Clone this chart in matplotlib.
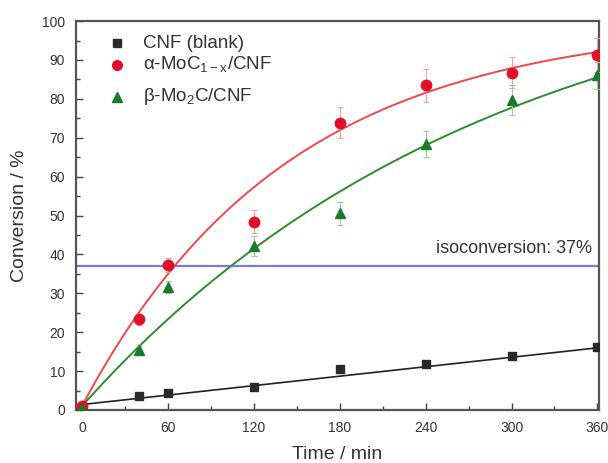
import numpy as np
import matplotlib
matplotlib.use("Agg")
import matplotlib.pyplot as plt
from matplotlib.ticker import MultipleLocator

plt.rcParams['font.family'] = ['Liberation Sans', 'DejaVu Sans']
plt.rcParams['mathtext.fontset'] = 'custom'
plt.rcParams['mathtext.rm'] = 'Liberation Sans'

time = [0, 40, 60, 120, 180, 240, 300, 360]
cnf_blank = [0.8, 3.7, 4.3, 6.0, 10.5, 11.7, 13.8, 16.1]
alpha_moc = [1.0, 23.3, 37.3, 48.4, 73.9, 83.5, 86.7, 91.3]
alpha_err = [0.5, 1.5, 1.8, 3.0, 4.0, 4.2, 4.0, 4.3]
beta_mo2c = [0.6, 15.3, 31.7, 42.2, 50.6, 68.4, 79.7, 86.1]
beta_err = [0.5, 1.2, 1.5, 2.5, 3.0, 3.4, 3.8, 3.5]

# fitted curves: y = y0 + A*(1-exp(-k t)); blank: linear
alpha_fit = dict(y0=1.0, A=99.0, k=0.0070)
beta_fit = dict(y0=1.0, A=118.0, k=0.0035)
blank_fit = dict(b=1.4, m=0.0405)
iso_level = 37

fig = plt.figure(figsize=(6.08, 4.63), dpi=100)
ax = fig.add_axes([0.125, 0.1145, 0.860, 0.840])

tt = np.linspace(0, 360, 300)
red_line = '#f04848'
green_line = '#2e8b2e'
ax.plot(tt, blank_fit['b'] + blank_fit['m'] * tt, color='#222222', lw=1.2, zorder=2)
ax.plot(tt, alpha_fit['y0'] + alpha_fit['A'] * (1 - np.exp(-alpha_fit['k'] * tt)),
        color=red_line, lw=1.4, zorder=2)
ax.plot(tt, beta_fit['y0'] + beta_fit['A'] * (1 - np.exp(-beta_fit['k'] * tt)),
        color=green_line, lw=1.4, zorder=2)

ax.axhline(iso_level, color='#7a78d8', lw=1.6, zorder=1)
ax.text(0.986, (iso_level + 4.6) / 100, 'isoconversion: 37%', transform=ax.transAxes,
        ha='right', va='center', fontsize=13, color='#333333')

ax.errorbar(time, alpha_moc, yerr=alpha_err, fmt='none', ecolor='#f4a0a0',
            elinewidth=0.8, capsize=2.5, capthick=0.8, zorder=3)
ax.errorbar(time, beta_mo2c, yerr=beta_err, fmt='none', ecolor='#9cc89c',
            elinewidth=0.8, capsize=2.5, capthick=0.8, zorder=3)

ax.plot(time, cnf_blank, 's', color='#2a2a2a', ms=6, zorder=4)
ax.plot(time, alpha_moc, 'o', color='#e0102a', ms=7.5, zorder=4)
ax.plot(time, beta_mo2c, '^', color='#1a7a2a', ms=7.5, zorder=4)

# legend (manual)
leg_rows = [0.943, 0.887, 0.806]
leg_labels = ['CNF (blank)', '\u03b1-MoC$_{\\mathregular{1-x}}$/CNF',
              '\u03b2-Mo$_{\\mathregular{2}}$C/CNF']
leg_styles = [('s', '#2a2a2a', 5.5), ('o', '#e0102a', 7), ('^', '#1a7a2a', 7)]
for yy, lab, (m, c, s) in zip(leg_rows, leg_labels, leg_styles):
    ax.plot([0.078], [yy], m, color=c, ms=s, transform=ax.transAxes, clip_on=False)
    ax.text(0.128, yy, lab, transform=ax.transAxes, ha='left', va='center',
            fontsize=13.5, color='#333333')

ax.set_xlim(-4.2, 361)
ax.set_ylim(0, 100)
ax.xaxis.set_major_locator(MultipleLocator(60))
ax.xaxis.set_minor_locator(MultipleLocator(30))
ax.yaxis.set_major_locator(MultipleLocator(10))
ax.yaxis.set_minor_locator(MultipleLocator(5))
ax.tick_params(which='both', direction='in', top=False, right=False,
               colors='#444444', labelcolor='#333333')
ax.tick_params(which='major', length=5, width=1, labelsize=10, pad=8)
ax.tick_params(which='minor', length=3, width=1)
for sp in ax.spines.values():
    sp.set_color('#555555')
    sp.set_linewidth(1.6)

ax.set_xlabel('Time / min', fontsize=14, color='#333333', labelpad=8)
ax.set_ylabel('Conversion / %', fontsize=14, color='#333333', labelpad=10)

fig.savefig('out.png', dpi=100)
